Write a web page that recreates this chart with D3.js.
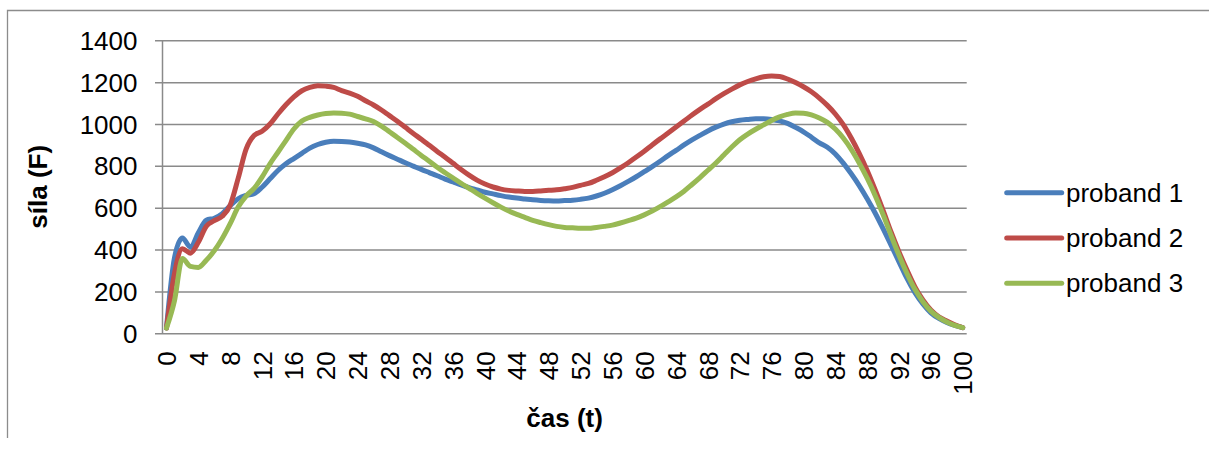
<!DOCTYPE html>
<html>
<head>
<meta charset="utf-8">
<script src="https://cdn.jsdelivr.net/npm/d3@7"></script>
<style>
  html, body { margin: 0; padding: 0; background: #fff; }
  svg { display: block; font-family: "Liberation Sans", Arial, sans-serif; }
</style>
</head>
<body>
<svg id="chart" width="1209" height="460"></svg>
<script>
// time samples (t)
const times = [0,1,2,3,4,5,6,7,8,9,10,11,12,13,14,15,16,17,18,19,20,21,22,23,24,25,26,27,28,29,30,
  31,32,33,34,35,36,37,38,39,40,41,42,43,44,45,46,47,48,49,50,51,52,53,54,55,56,57,58,59,60,
  61,62,63,64,65,66,67,68,69,70,71,72,73,74,75,76,77,78,79,80,81,82,83,84,85,86,87,88,89,90,
  91,92,93,94,95,96,97,98,99,100];

// force F for each subject
const proband1 = [25,360,455,412,480,540,550,572,610,643,659,667,698,738,778,810,835,860,885,902,913,918,917,914,908,
  900,886,867,849,832,815,799,783,768,753,737,723,709,696,685,674,666,658,651,646,642,638,635,633,632,634,
  636,640,646,656,669,686,705,726,748,772,796,822,849,874,900,924,946,967,985,1000,1011,1018,1022,1025,1025,
  1022,1015,1003,984,963,937,910,889,857,813,762,706,643,575,500,421,341,262,194,140,98,71,52,38,27];

const proband2 = [25,285,404,383,435,512,538,559,612,740,880,945,965,1000,1048,1092,1130,1159,1175,1183,1181,1175,1160,1148,1133,
  1111,1091,1067,1040,1013,984,955,927,898,869,841,812,783,756,732,713,699,689,683,680,678,678,680,683,686,691,
  697,707,716,731,748,767,790,815,842,870,900,929,957,986,1014,1043,1070,1095,1121,1145,1167,1187,1203,1216,1226,
  1230,1227,1215,1198,1178,1154,1124,1089,1048,997,933,860,778,686,587,484,389,302,222,159,111,79,59,41,27];

const proband3 = [25,155,357,320,315,349,394,453,524,603,656,692,746,810,865,921,976,1014,1032,1043,1050,1053,1052,1047,1036,
  1025,1012,990,963,936,908,879,850,822,793,767,742,717,693,669,646,624,603,584,568,554,540,529,519,511,506,
  504,502,502,506,511,517,527,538,550,566,584,605,628,652,679,711,744,779,814,852,890,925,952,975,996,
  1017,1034,1046,1053,1052,1044,1029,1008,976,933,879,814,741,659,567,468,373,286,210,151,106,76,54,38,27];

const seriesNames = ["proband 1", "proband 2", "proband 3"];
const seriesColors = ["#4a7ebb", "#be4b48", "#98b954"];

const xTickLabels = [0,4,8,12,16,20,24,28,32,36,40,44,48,52,56,60,64,68,72,76,80,84,88,92,96,100];
const yTickLabels = [0,200,400,600,800,1000,1200,1400];

const xTitle = "čas (t)";
const yTitle = "síla (F)";

const series = [proband1, proband2, proband3].map((vals, i) => ({
  name: seriesNames[i], color: seriesColors[i],
  points: vals.map((v, j) => ({ t: times[j], v }))
}));

const svg = d3.select("#chart");
const plot = { left: 162.5, right: 966.7, top: 40.3, bottom: 333.3 };
const gridColor = "#8a8a8a";

// outer chart frame (left and top edges)
svg.append("path")
  .attr("d", "M7.5,438 L7.5,10.5 L1209,10.5")
  .attr("fill", "none").attr("stroke", "#8c8c8c").attr("stroke-width", 1.3);

const x = d3.scalePoint().domain(times).range([plot.left, plot.right]).padding(0.5);
const y = d3.scaleLinear().domain([0, 1400]).range([plot.bottom, plot.top]);

// horizontal gridlines with outward tick marks
const yAxis = d3.axisLeft(y).tickValues(yTickLabels).tickFormat(d3.format("d"))
  .tickSize(-(plot.right - plot.left)).tickSizeOuter(0).tickPadding(18);
const gy = svg.append("g").attr("transform", `translate(${plot.left},0)`).call(yAxis);
gy.select(".domain").remove();
gy.selectAll(".tick line")
  .attr("x1", -7.5).attr("x2", plot.right - plot.left)
  .attr("stroke", gridColor).attr("stroke-width", 1.5);
gy.selectAll(".tick text")
  .attr("x", -25).attr("dy", "0.35em")
  .attr("fill", "#000").style("font-size", "26px");

// vertical axis line
svg.append("line")
  .attr("x1", plot.left).attr("x2", plot.left)
  .attr("y1", plot.top).attr("y2", plot.bottom)
  .attr("stroke", gridColor).attr("stroke-width", 1.5);

// category axis labels, rotated
const xAxis = d3.axisBottom(x).tickValues(xTickLabels).tickSize(0).tickPadding(0);
const gx = svg.append("g").attr("transform", `translate(0,${plot.bottom})`).call(xAxis);
gx.select(".domain").remove();
gx.selectAll(".tick text")
  .attr("transform", "rotate(-90)")
  .attr("x", -18).attr("y", 0).attr("dy", "0.35em")
  .attr("text-anchor", "end")
  .attr("fill", "#000").style("font-size", "26px");

// data lines
const line = d3.line().x(d => x(d.t)).y(d => y(d.v)).curve(d3.curveMonotoneX);
svg.append("g").selectAll("path").data(series).join("path")
  .attr("d", d => line(d.points))
  .attr("fill", "none")
  .attr("stroke", d => d.color)
  .attr("stroke-width", 5)
  .attr("stroke-linejoin", "round")
  .attr("stroke-linecap", "round");

// axis titles
svg.append("text")
  .attr("x", (plot.left + plot.right) / 2).attr("y", 427)
  .attr("text-anchor", "middle").attr("font-weight", "bold")
  .style("font-size", "26px").text(xTitle);

svg.append("text")
  .attr("transform", `translate(47,${(plot.top + plot.bottom) / 2}) rotate(-90)`)
  .attr("text-anchor", "middle").attr("font-weight", "bold")
  .style("font-size", "26px").text(yTitle);

// legend
const legendY = d3.scalePoint().domain(seriesNames).range([192.7, 283.3]);
const lg = svg.append("g").selectAll("g").data(series).join("g")
  .attr("transform", d => `translate(0,${legendY(d.name)})`);
lg.append("line")
  .attr("x1", 1006.7).attr("x2", 1061.7)
  .attr("stroke", d => d.color).attr("stroke-width", 5)
  .attr("stroke-linecap", "round");
lg.append("text")
  .attr("x", 1066).attr("dy", "0.35em")
  .style("font-size", "26px").text(d => d.name);
</script>
</body>
</html>
